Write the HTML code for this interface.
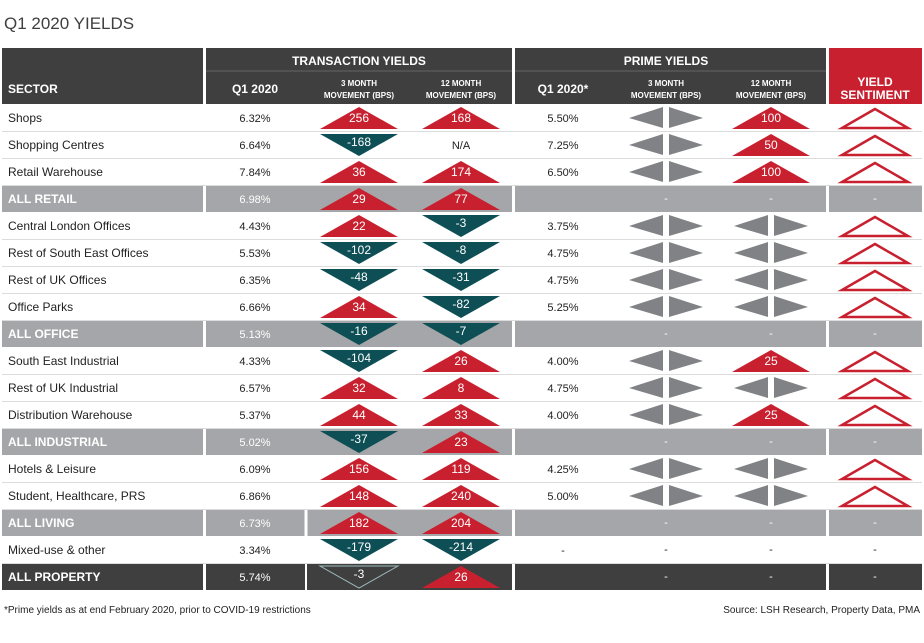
<!DOCTYPE html>
<html><head><meta charset="utf-8">
<style>
body{margin:0;background:#fff;width:924px;height:638px;overflow:hidden;font-family:"Liberation Sans Narrow","Liberation Sans",sans-serif;}
svg text{font-family:"Liberation Sans Narrow","Liberation Sans",sans-serif;}
</style></head>
<body>
<svg id="chart" width="924" height="638" xmlns="http://www.w3.org/2000/svg">
<text x="4" y="29" font-size="17" fill="#3f3f3f">Q1 2020 YIELDS</text>
<g>
<rect x="2" y="48" width="201" height="56" fill="#3f3f3f"/>
<rect x="206" y="48" width="306" height="56" fill="#3f3f3f"/>
<rect x="515" y="48" width="311" height="56" fill="#3f3f3f"/>
<rect x="829" y="48" width="93" height="56" fill="#c8202f"/>
<line x1="206" y1="71" x2="512" y2="71" stroke="#666" stroke-width="1"/>
<line x1="515" y1="71" x2="826" y2="71" stroke="#666" stroke-width="1"/>
<text x="359" y="65" text-anchor="middle" font-size="12" font-weight="bold" fill="#fff">TRANSACTION YIELDS</text>
<text x="666" y="65" text-anchor="middle" font-size="12" font-weight="bold" fill="#fff">PRIME YIELDS</text>
<text x="8" y="93" font-size="12" font-weight="bold" fill="#fff">SECTOR</text>
<text x="255" y="93" text-anchor="middle" font-size="12" font-weight="bold" fill="#fff">Q1 2020</text>
<text x="359" y="86" text-anchor="middle" font-size="8" font-weight="bold" fill="#fff">3 MONTH</text>
<text x="359" y="98" text-anchor="middle" font-size="8" font-weight="bold" fill="#fff">MOVEMENT (BPS)</text>
<text x="461" y="86" text-anchor="middle" font-size="8" font-weight="bold" fill="#fff">12 MONTH</text>
<text x="461" y="98" text-anchor="middle" font-size="8" font-weight="bold" fill="#fff">MOVEMENT (BPS)</text>
<text x="563" y="93" text-anchor="middle" font-size="12" font-weight="bold" fill="#fff">Q1 2020*</text>
<text x="666" y="86" text-anchor="middle" font-size="8" font-weight="bold" fill="#fff">3 MONTH</text>
<text x="666" y="98" text-anchor="middle" font-size="8" font-weight="bold" fill="#fff">MOVEMENT (BPS)</text>
<text x="771" y="86" text-anchor="middle" font-size="8" font-weight="bold" fill="#fff">12 MONTH</text>
<text x="771" y="98" text-anchor="middle" font-size="8" font-weight="bold" fill="#fff">MOVEMENT (BPS)</text>
<text x="875" y="86" text-anchor="middle" font-size="12" font-weight="bold" fill="#fff">YIELD</text>
<text x="875" y="99" text-anchor="middle" font-size="12" font-weight="bold" fill="#fff">SENTIMENT</text>
</g>
<g id="rows"></g>
<text x="4" y="613" font-size="10" fill="#222">*Prime yields as at end February 2020, prior to COVID-19 restrictions</text>
<text x="920" y="613" text-anchor="end" font-size="10" fill="#222">Source: LSH Research, Property Data, PMA</text>
</svg>
<script>
const sectors=["Shops","Shopping Centres","Retail Warehouse","ALL RETAIL","Central London Offices","Rest of South East Offices","Rest of UK Offices","Office Parks","ALL OFFICE","South East Industrial","Rest of UK Industrial","Distribution Warehouse","ALL INDUSTRIAL","Hotels & Leisure","Student, Healthcare, PRS","ALL LIVING","Mixed-use & other","ALL PROPERTY"];
const rowTypes=["w","w","w","g","w","w","w","w","g","w","w","w","g","w","w","g","w","d"];
const txYield=["6.32%","6.64%","7.84%","6.98%","4.43%","5.53%","6.35%","6.66%","5.13%","4.33%","6.57%","5.37%","5.02%","6.09%","6.86%","6.73%","3.34%","5.74%"];
const tx3m=[256,-168,36,29,22,-102,-48,34,-16,-104,32,44,-37,156,148,182,-179,-3];
const tx12m=[168,null,174,77,-3,-8,-31,-82,-7,26,8,33,23,119,240,204,-214,26];
const primeYield=["5.50%","7.25%","6.50%","-","3.75%","4.75%","4.75%","5.25%","-","4.00%","4.75%","4.00%","-","4.25%","5.00%","-","-","-"];
const prime3m=[0,0,0,null,0,0,0,0,null,0,0,0,null,0,0,null,null,null];
const prime12m=[100,50,100,null,0,0,0,0,null,25,0,25,null,0,0,null,null,null];
const sentiment=["up","up","up","-","up","up","up","up","-","up","up","up","-","up","up","-","-","-"];

const NS="http://www.w3.org/2000/svg";
const g=document.getElementById("rows");
const rowY=i=>104+27*i;
const colX={sector:8,q1:255,m3:359,m12:461,pq1:563,p3:666,p12:771,sent:875};
function mk(tag,attrs,parent){const e=document.createElementNS(NS,tag);for(const k in attrs)e.setAttribute(k,attrs[k]);(parent||g).appendChild(e);return e;}
function txt(x,y,s,fill,anchor,size,weight,parent){const t=mk("text",{x:x,y:y,fill:fill,"text-anchor":anchor||"middle","font-size":size||12},parent);if(weight)t.setAttribute("font-weight",weight);t.textContent=s;return t;}
function moveTri(cx,top,v,dark,parent,outline){
  const up=v>0;let pts;
  if(up)pts=[[cx-39,top+25],[cx+39,top+25],[cx,top+3]];
  else pts=[[cx-39,top+3],[cx+39,top+3],[cx,top+25]];
  const p=mk("polygon",{points:pts.map(a=>a.join(",")).join(" "),fill:outline?"none":(up?"#c8202f":"#0e4f56"),stroke:outline?"#9dbcbf":"none","stroke-width":1},parent);
  
  
  txt(cx,top+(up?18:15),String(v),"#fff","middle",12,null,parent);
}
function sideways(cx,top,parent){
  const a=mk("polygon",{points:`${cx-3},${top+3} ${cx-3},${top+24} ${cx-37},${top+14}`,fill:"#808285"},parent);
  
  
  const b=mk("polygon",{points:`${cx+3},${top+3} ${cx+3},${top+24} ${cx+37},${top+14}`,fill:"#808285"},parent);
  
  
}
sectors.forEach((s,i)=>{
  const top=rowY(i),type=rowTypes[i];
  const r=mk("g",{});
  
  
  const bg=type==="g"?"#a5a6a9":type==="d"?"#3f3f3f":null;
  if(bg){
    [[2,201],[206,306],[515,311],[829,93]].forEach(c=>mk("rect",{x:c[0],y:top+1,width:c[1],height:26,fill:bg},r));
    if(i===15)mk("line",{x1:306,y1:top+1,x2:306,y2:top+27,stroke:"#fff","stroke-width":3},r);
    if(type==="d")mk("line",{x1:306,y1:top+1,x2:306,y2:top+27,stroke:"#fff","stroke-width":2},r);
  } else {
    mk("line",{x1:2,y1:top+27.5,x2:922,y2:top+27.5,stroke:"#dcdcdc","stroke-width":1},r);
  }
  const fg=bg?"#fff":"#222";
  txt(colX.sector,top+18,s,fg,"start",12,bg?"bold":null,r);
  txt(colX.q1,top+18,txYield[i],fg,"middle",11,null,r);
  moveTri(colX.m3,top,tx3m[i],type==="d",r,type==="d"&&tx3m[i]<0);
  if(tx12m[i]===null)txt(colX.m12,top+18,"N/A","#222","middle",11,null,r);
  else moveTri(colX.m12,top,tx12m[i],false,r,false);
  if(primeYield[i]!=="-"||!bg)txt(colX.pq1,top+18,primeYield[i],fg,"middle",11,null,r);
  [[prime3m[i],colX.p3],[prime12m[i],colX.p12]].forEach(([v,cx])=>{
    if(v===null)txt(cx,top+17,"-",fg,"middle",11,null,r);
    else if(v===0)sideways(cx,top,r);
    else moveTri(cx,top,v,false,r,false);
  });
  if(sentiment[i]==="up"){
    const p=mk("polygon",{points:`${colX.sent-33},${top+24} ${colX.sent+33},${top+24} ${colX.sent},${top+5}`,fill:"none",stroke:"#c8202f","stroke-width":2.5},r);
    
    
  } else txt(colX.sent,top+17,"-",fg,"middle",11,null,r);
});
</script>
</body></html>
